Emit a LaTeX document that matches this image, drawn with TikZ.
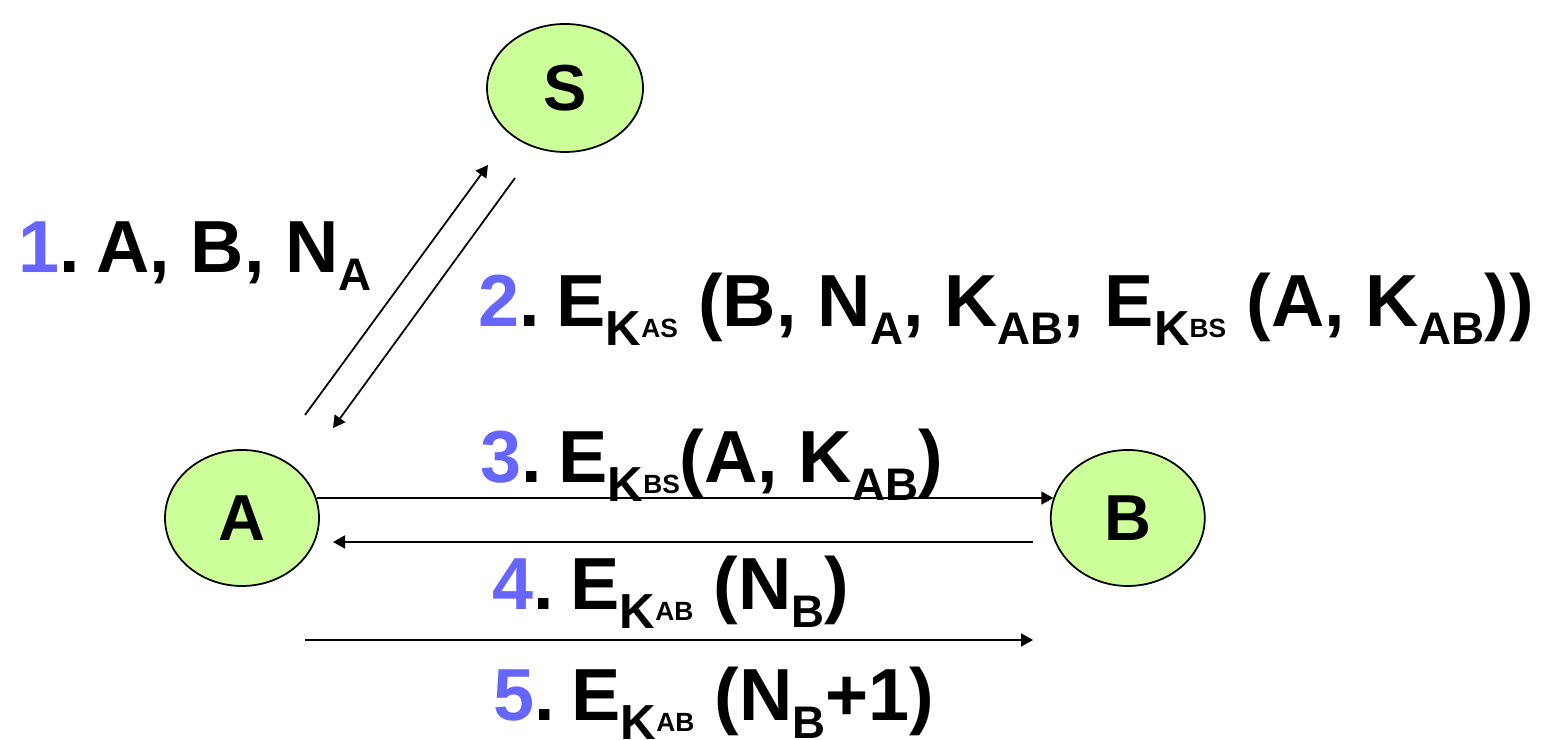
\documentclass[tikz,border=0pt]{standalone}
\usepackage{fontspec}
\setmainfont{Liberation Sans}
\usetikzlibrary{positioning,arrows.meta,shapes.geometric}
\definecolor{stepblue}{HTML}{6666FF}
\definecolor{hostgreen}{HTML}{CCFF99}
\newcommand{\nr}[1]{\textcolor{stepblue}{#1}.\hspace{0.22em}}
\newcommand{\lo}[1]{\raisebox{-0.18cm}{\fontsize{13}{13}\selectfont #1}}
\newcommand{\ky}[1]{\raisebox{-0.19cm}{\fontsize{14}{14}\selectfont K\raisebox{0.08cm}{\fontsize{7.5}{8}\selectfont #1}}}

\begin{document}
\begin{tikzpicture}[node distance=7.3cm]
\tikzset{
  host/.style={ellipse,draw,line width=0.5pt,fill=hostgreen,minimum width=1.54cm,minimum height=1.36cm,inner sep=0pt,font=\fontsize{18.5}{20}\selectfont\bfseries},
  msg/.style={-{Triangle[length=1.2mm,width=1.3mm]},line width=0.5pt},
  lbl/.style={anchor=base west,inner sep=0pt,font=\fontsize{21}{24}\selectfont\bfseries}
}
\useasboundingbox (0,0) rectangle (15.6,7.4);
\node[host] (A) at (2.42,2.22) {A};
\node[host,right=of A] (B) {B};
\node[host,minimum width=1.56cm,minimum height=1.28cm] (S) at (5.65,6.52) {S};
% free ends of the slanted and lower arrows
\coordinate (up0) at (3.05,3.25);
\coordinate (up1) at (4.88,5.75);
\coordinate (dn0) at (5.15,5.62);
\coordinate (dn1) at (3.33,3.12);
\coordinate (back0) at (10.33,1.98);
\coordinate (back1) at (3.33,1.98);
\coordinate (last0) at (3.05,1.00);
\coordinate (last1) at (10.33,1.00);
\draw[msg] (up0)--(up1);
\draw[msg] (dn0)--(dn1);
\draw[msg] (A.15)--(B.165);
\draw[msg] (back0)--(back1);
\draw[msg] (last0)--(last1);
% message labels
\node[lbl] (m1) at (0.18,4.67) {\nr{1}A, B, N\lo{A}};
\node[lbl] (m2) at (4.78,4.13) {\nr{2}E\ky{AS} (B, N\lo{A}, K\lo{AB}, E\ky{BS} (A, K\lo{AB}))};
\node[lbl] (m3) at (4.80,2.57) {\nr{3}E\ky{BS}(A, K\lo{AB})};
\node[lbl] (m4) at (4.92,1.30) {\nr{4}E\ky{AB} (N\lo{B})};
\node[lbl] (m5) at (4.93,0.19) {\nr{5}E\ky{AB} (N\lo{B}+1)};
\end{tikzpicture}
\end{document}
